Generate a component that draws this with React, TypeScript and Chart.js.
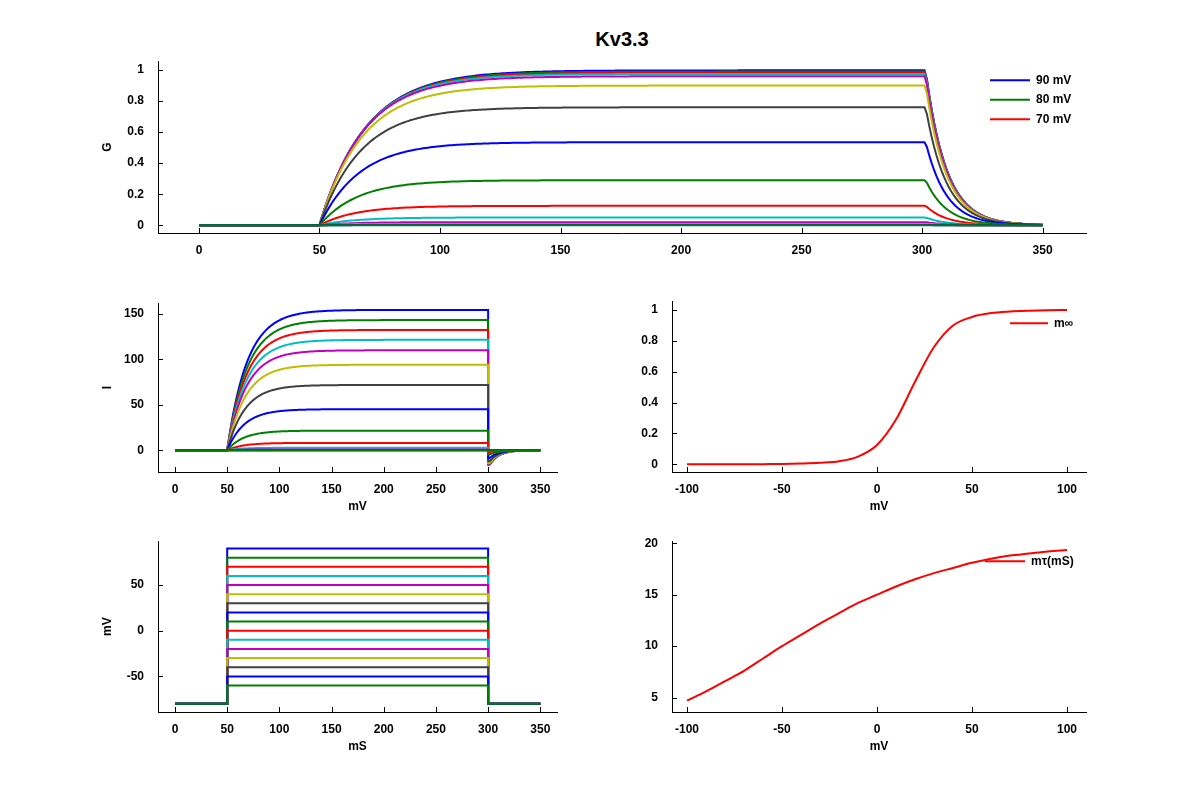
import React, { useEffect, useRef } from "react";
import { Chart, registerables } from "chart.js";
Chart.register(...registerables);

// ---- data ----
const stepVoltages = [90, 80, 70, 60, 50, 40, 30, 20, 10, 0, -10, -20, -30, -40, -50, -60];
const stepColors = ["#0000ff", "#008000", "#ff0000", "#00bfbf", "#bf00bf", "#bfbf00", "#404040"];
const steadyG = [0.998, 0.99, 0.983, 0.975, 0.96, 0.9, 0.76, 0.535, 0.29, 0.125, 0.05, 0.02, 0.008, 0.003, 0.001, 0.0];
const stepTau = [19.2, 19.0, 18.8, 18.5, 18.1, 17.6, 17.1, 16.5, 15.8, 15.0, 14.2, 13.2, 12.2, 11.1, 10.0, 8.8];
const curveV = [-100, -90, -80, -70, -60, -50, -40, -30, -20, -10, 0, 10, 20, 30, 40, 50, 60, 70, 80, 90, 100];
const minfValues = [0, 0, 0, 0, 0.001, 0.002, 0.005, 0.01, 0.02, 0.05, 0.125, 0.29, 0.535, 0.76, 0.9, 0.955, 0.98, 0.99, 0.995, 0.998, 1];
const tauValues = [4.7, 5.6, 6.6, 7.6, 8.8, 10.0, 11.1, 12.2, 13.2, 14.2, 15.0, 15.8, 16.5, 17.1, 17.6, 18.1, 18.5, 18.8, 19.0, 19.2, 19.35];
const holdV = -80;
const stepStart = 50;
const stepEnd = 300;
const simEnd = 350;
const gMax = 1.006;
const eRev = -64;
const deactTau = 8.5;
const timeTicks = [0, 50, 100, 150, 200, 250, 300, 350];
const gTicks = [0, 0.2, 0.4, 0.6, 0.8, 1];
const iTicks = [0, 50, 100, 150];
const vTicks = [-50, 0, 50];
const curveVTicks = [-100, -50, 0, 50, 100];
const tauTicks = [5, 10, 15, 20];

const FONT = "'Liberation Sans', Arial, sans-serif";
const colorOf = (i: number) => stepColors[i % stepColors.length];

function gTrace(i: number) {
  const pts: { x: number; y: number }[] = [];
  const g300 = steadyG[i] * (1 - Math.exp(-(stepEnd - stepStart) / stepTau[i]));
  for (let t = 0; t <= simEnd; t++) {
    let g = 0;
    if (t >= stepStart && t <= stepEnd) g = steadyG[i] * (1 - Math.exp(-(t - stepStart) / stepTau[i]));
    else if (t > stepEnd) g = g300 * Math.exp(-Math.max(0, t - stepEnd - 1.5) / deactTau);
    pts.push({ x: t, y: g });
  }
  return pts;
}
function iTrace(i: number) {
  const g = gTrace(i);
  const out: { x: number; y: number }[] = [];
  g.forEach((p) => {
    const v = p.x >= stepStart && p.x <= stepEnd ? stepVoltages[i] : holdV;
    if (p.x === stepEnd) {
      out.push({ x: p.x, y: gMax * p.y * (stepVoltages[i] - eRev) });
      out.push({ x: p.x, y: gMax * p.y * (holdV - eRev) });
    } else out.push({ x: p.x, y: gMax * p.y * (v - eRev) });
  });
  return out;
}
function vTrace(i: number) {
  return [
    { x: 0, y: holdV }, { x: stepStart, y: holdV }, { x: stepStart, y: stepVoltages[i] },
    { x: stepEnd, y: stepVoltages[i] }, { x: stepEnd, y: holdV }, { x: simEnd, y: holdV },
  ];
}

const inTicks = {
  id: "inTicks",
  afterDraw(chart: any) {
    const ctx = chart.ctx;
    const a = chart.chartArea;
    ctx.save();
    ctx.strokeStyle = "#000";
    ctx.lineWidth = 1;
    const xs = chart.scales.x, ys = chart.scales.y;
    xs.ticks.forEach((t: any) => {
      const px = Math.round(xs.getPixelForValue(t.value)) + 0.5;
      ctx.beginPath(); ctx.moveTo(px, a.bottom); ctx.lineTo(px, a.bottom - 5); ctx.stroke();
    });
    ys.ticks.forEach((t: any) => {
      const py = Math.round(ys.getPixelForValue(t.value)) + 0.5;
      ctx.beginPath(); ctx.moveTo(a.left, py); ctx.lineTo(a.left + 5, py); ctx.stroke();
    });
    const items = chart.options.plugins.myLegend?.items || [];
    const lx = chart.options.plugins.myLegend?.x ?? 0;
    const ly = chart.options.plugins.myLegend?.y ?? 0;
    const lw = chart.options.plugins.myLegend?.w ?? 40;
    ctx.font = `bold 12px ${FONT}`;
    ctx.textBaseline = "middle";
    items.forEach((it: any, k: number) => {
      const y = a.top + ly + k * 19.5;
      ctx.strokeStyle = it.color; ctx.lineWidth = 2;
      ctx.beginPath(); ctx.moveTo(a.left + lx, y); ctx.lineTo(a.left + lx + lw, y); ctx.stroke();
      ctx.fillStyle = "#000";
      ctx.fillText(it.text, a.left + lx + lw + 6, y);
    });
    ctx.restore();
  },
};

type Panel = {
  left: number; top: number; width: number; height: number;
  datasets: any[]; xMin: number; xMax: number; yMin: number; yMax: number;
  xTicks: number[]; yTicks: number[]; xTitle?: string; yTitle?: string; legend?: any;
};

function ChartPanel(p: Panel) {
  const ref = useRef<HTMLCanvasElement>(null);
  const padL = 62, padT = 10, padR = 12, padB = 42;
  useEffect(() => {
    const fixW = (s: any) => { s.width = padL; };
    const fixH = (s: any) => { s.height = padB; };
    const chart = new Chart(ref.current!, {
      type: "line",
      data: { datasets: p.datasets },
      options: {
        animation: false, responsive: false, maintainAspectRatio: false,
        parsing: false, normalized: true,
        layout: { padding: { left: 0, top: padT, right: padR, bottom: 0 } },
        elements: { point: { radius: 0 }, line: { borderWidth: 2, tension: 0 } },
        plugins: { legend: { display: false }, tooltip: { enabled: false }, myLegend: p.legend } as any,
        scales: {
          x: {
            type: "linear", min: p.xMin, max: p.xMax,
            grid: { display: false }, border: { display: true, color: "#000", width: 1 },
            afterBuildTicks: (s: any) => { s.ticks = p.xTicks.map((v) => ({ value: v })); },
            afterFit: fixH,
            ticks: { color: "#000", font: { family: FONT, size: 12, weight: "bold" }, padding: 2, maxRotation: 0, callback: (v: any) => String(v) },
            title: { display: !!p.xTitle, text: p.xTitle || "", color: "#000", font: { family: FONT, size: 12, weight: "bold" }, padding: 0 },
          },
          y: {
            type: "linear", min: p.yMin, max: p.yMax,
            grid: { display: false }, border: { display: true, color: "#000", width: 1 },
            afterBuildTicks: (s: any) => { s.ticks = p.yTicks.map((v) => ({ value: v })); },
            afterFit: fixW,
            ticks: { color: "#000", font: { family: FONT, size: 12, weight: "bold" }, padding: 6, callback: (v: any) => String(v) },
            title: { display: !!p.yTitle, text: p.yTitle || "", color: "#000", font: { family: FONT, size: 12, weight: "bold" }, padding: 4 },
          },
        },
      } as any,
      plugins: [inTicks],
    });
    return () => chart.destroy();
  }, []);
  return (
    <canvas
      ref={ref}
      width={p.width + padL + padR}
      height={p.height + padT + padB}
      style={{ position: "absolute", left: p.left - padL, top: p.top - padT, width: p.width + padL + padR, height: p.height + padT + padB }}
    />
  );
}

export default function App() {
  useEffect(() => { document.body.style.margin = "0"; }, []);
  const mk = (fn: (i: number) => any[]) =>
    stepVoltages.map((v, i) => ({ label: `${v} mV`, data: fn(i), borderColor: colorOf(i), borderWidth: 2, pointRadius: 0 })).reverse();
  const gSets = mk(gTrace);
  const iSets = mk(iTrace);
  const vSets = mk(vTrace);
  const minfSet = [{ label: "m∞", data: curveV.map((v, k) => ({ x: v, y: minfValues[k] })), borderColor: "#ff0000", borderWidth: 2, cubicInterpolationMode: "monotone" }];
  const tauSet = [{ label: "mτ(mS)", data: curveV.map((v, k) => ({ x: v, y: tauValues[k] })), borderColor: "#ff0000", borderWidth: 2, cubicInterpolationMode: "monotone" }];
  return (
    <div style={{ position: "relative", width: 1200, height: 800, background: "#fff", fontFamily: FONT }}>
      <div style={{ position: "absolute", left: 0, width: 1200, top: 28, textAlign: "center", fontWeight: "bold", fontSize: 20, paddingLeft: 44, boxSizing: "border-box" }}>Kv3.3</div>
      <ChartPanel left={158} top={58} width={928} height={175} datasets={gSets}
        xMin={-17} xMax={368} yMin={-0.05} yMax={1.057} xTicks={timeTicks} yTicks={gTicks} yTitle="G"
        legend={{ x: 832, y: 19, w: 40, items: [0, 1, 2].map((i) => ({ color: colorOf(i), text: `${stepVoltages[i]} mV` })) }} />
      <ChartPanel left={158} top={300} width={399} height={172} datasets={iSets}
        xMin={-16.3} xMax={366} yMin={-24} yMax={162} xTicks={timeTicks} yTicks={iTicks} xTitle="mV" yTitle="I" />
      <ChartPanel left={672} top={298} width={414} height={174} datasets={minfSet}
        xMin={-107.9} xMax={110} yMin={-0.05} yMax={1.057} xTicks={curveVTicks} yTicks={gTicks} xTitle="mV"
        legend={{ x: 338, y: 22, w: 38, items: [{ color: "#ff0000", text: "m∞" }] }} />
      <ChartPanel left={158} top={538} width={399} height={174} datasets={vSets}
        xMin={-16.3} xMax={366} yMin={-89} yMax={98} xTicks={timeTicks} yTicks={vTicks} xTitle="mS" yTitle="mV" />
      <ChartPanel left={672} top={538} width={414} height={174} datasets={tauSet}
        xMin={-107.9} xMax={110} yMin={3.6} yMax={20.2} xTicks={curveVTicks} yTicks={tauTicks} xTitle="mV"
        legend={{ x: 313, y: 20, w: 40, items: [{ color: "#ff0000", text: "mτ(mS)" }] }} />
    </div>
  );
}
